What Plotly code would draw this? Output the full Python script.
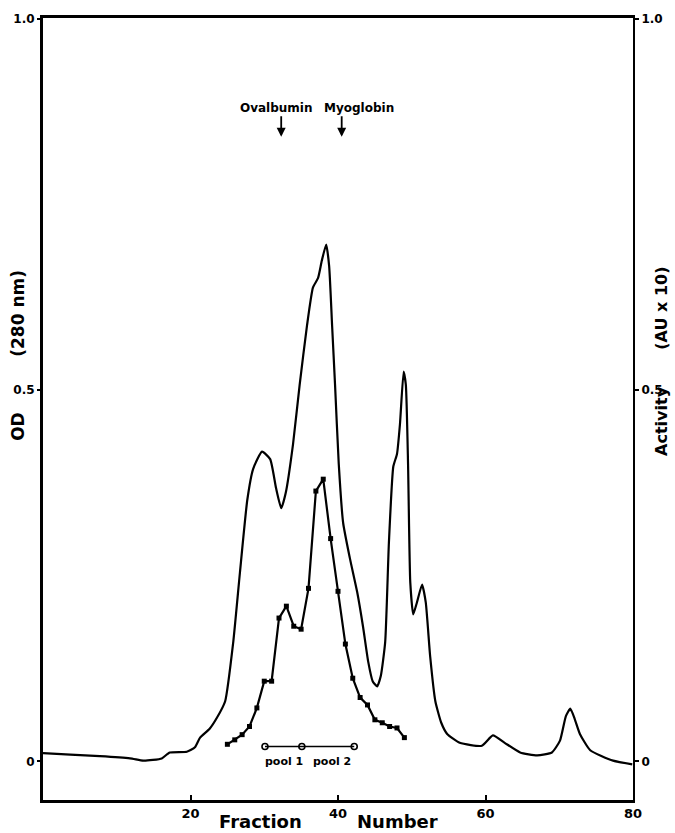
import plotly.graph_objects as go

# Absorbance trace (OD 280 nm) versus fraction number
od_fraction = [0.0, 3.7, 7.7, 11.8, 13.6, 14.9, 16.1, 17.2, 19.5, 20.6, 21.3, 22.6, 23.6,
               24.7, 25.8, 26.7, 27.7, 28.5, 29.7, 30.8, 31.6, 32.3, 32.9, 33.9, 34.8,
               35.8, 36.6, 37.3, 37.8, 38.4, 38.8, 39.2, 39.6, 40.1, 40.7, 41.6, 42.6,
               43.4, 44.1, 44.7, 45.3, 45.8, 46.4, 46.9, 47.5, 48.0, 48.4, 48.9, 49.2,
               49.5, 49.8, 50.2, 50.7, 51.4, 51.9, 52.5, 53.2, 54.0, 54.8, 56.5, 59.5,
               61.0, 62.6, 64.7, 67.0, 69.0, 70.1, 70.9, 71.5, 72.1, 72.8, 74.2, 77.3, 79.9]
od_value = [0.011, 0.009, 0.007, 0.004, 0.001, 0.002, 0.004, 0.012, 0.013, 0.019, 0.032,
            0.044, 0.059, 0.081, 0.161, 0.254, 0.352, 0.394, 0.417, 0.407, 0.368, 0.341,
            0.361, 0.427, 0.507, 0.587, 0.638, 0.651, 0.674, 0.696, 0.667, 0.587, 0.507,
            0.401, 0.321, 0.274, 0.228, 0.181, 0.134, 0.108, 0.101, 0.115, 0.161, 0.294,
            0.397, 0.414, 0.454, 0.525, 0.507, 0.400, 0.241, 0.198, 0.214, 0.238, 0.214,
            0.141, 0.081, 0.052, 0.037, 0.025, 0.021, 0.035, 0.025, 0.012, 0.008, 0.012,
            0.028, 0.061, 0.071, 0.057, 0.037, 0.015, 0.001, -0.004]

# Activity (AU x 10) measured per fraction
act_fraction = list(range(25, 50))
act_value = [0.023, 0.029, 0.036, 0.047, 0.072, 0.108, 0.108, 0.193, 0.209, 0.182,
             0.178, 0.233, 0.364, 0.380, 0.300, 0.229, 0.158, 0.112, 0.086, 0.076,
             0.056, 0.052, 0.047, 0.045, 0.032]

# Pooled fraction ranges
pool_fraction = [30.1, 35.1, 42.2]
pool_level = [0.02, 0.02, 0.02]
pool_labels = ["pool 1", "pool 2"]
pool_label_fraction = [32.7, 39.2]

# Molecular-weight markers
marker_names = ["Ovalbumin", "Myoglobin"]
marker_fraction = [32.3, 40.5]
marker_text_fraction = [31.7, 42.8]

x_ticks = [20, 40, 60, 80]
y_ticks = [0, 0.5, 1.0]
y_ticktext = ["0", "0.5", "1.0"]

FONT = "DejaVu Sans"
YR = [-0.052, 1.001]
W, H = 675, 833
L, R, T, B = 43, 42, 12, 33
pw, ph = W - L - R, H - T - B


def px2paper(px, py):
    return (px - L) / pw, (H - B - py) / ph


fig = go.Figure()

fig.add_trace(go.Scatter(
    x=od_fraction, y=od_value, mode="lines",
    line=dict(color="black", width=2.2, shape="spline", smoothing=0.5),
    showlegend=False, hoverinfo="skip"))

fig.add_trace(go.Scatter(
    x=act_fraction, y=act_value, mode="lines+markers", yaxis="y2",
    line=dict(color="black", width=2.2),
    marker=dict(symbol="square", size=5, color="black"),
    showlegend=False))

fig.add_trace(go.Scatter(
    x=pool_fraction, y=pool_level, mode="lines+markers",
    line=dict(color="black", width=1.5),
    marker=dict(symbol="circle-open", size=6, color="black", line=dict(width=1.6)),
    showlegend=False))

annotations = []
for lab, fx in zip(pool_labels, pool_label_fraction):
    annotations.append(dict(x=fx, y=0.0, xref="x", yref="y", text=f"<b>{lab}</b>",
                            showarrow=False, font=dict(family=FONT, size=11, color="black")))

for name, fx, tx in zip(marker_names, marker_fraction, marker_text_fraction):
    annotations.append(dict(x=tx, y=0.88, xref="x", yref="y", text=f"<b>{name}</b>",
                            showarrow=False, font=dict(family=FONT, size=12, color="black")))
    annotations.append(dict(x=fx, y=0.841, xref="x", yref="y", text="", showarrow=True,
                            ax=0, ay=-22, arrowhead=2, arrowsize=1, arrowwidth=1.8,
                            arrowcolor="black"))

# Axis titles
for txt, px, py, ang, size in [("Fraction", 260, 822, 0, 18), ("Number", 398, 822, 0, 18),
                                ("OD", 18, 424, -90, 17), ("(280 nm)", 18, 310, -90, 17),
                                ("Activity", 662, 418, -90, 16), ("(AU x 10)", 662, 305, -90, 16)]:
    xp, yp = px2paper(px, py)
    annotations.append(dict(x=xp, y=yp, xref="paper", yref="paper", text=f"<b>{txt}</b>",
                            textangle=ang, showarrow=False, xanchor="center", yanchor="middle",
                            font=dict(family=FONT, size=size, color="black")))

tick_font = dict(family=FONT, size=12, color="black")

fig.update_layout(
    width=W, height=H,
    margin=dict(l=L, r=R, t=T, b=B),
    paper_bgcolor="white", plot_bgcolor="white",
    showlegend=False,
    annotations=annotations,
    xaxis=dict(range=[0, 80], tickvals=x_ticks, ticktext=[f"<b>{v}</b>" for v in x_ticks],
               showgrid=False, zeroline=False, showline=True, linecolor="black", linewidth=2.5,
               mirror=True, ticks="inside", ticklen=5, tickwidth=1.5, tickcolor="black",
               tickfont=dict(family=FONT, size=13, color="black")),
    yaxis=dict(range=YR, tickvals=y_ticks, ticktext=[f"<b>{t}</b>" for t in y_ticktext],
               showgrid=False, zeroline=False, showline=True, linecolor="black", linewidth=3,
               ticks="outside", ticklen=3, tickwidth=1.5, tickcolor="black", tickfont=tick_font),
    yaxis2=dict(range=YR, tickvals=y_ticks, ticktext=[f"<b>{t}</b>" for t in y_ticktext],
                overlaying="y", side="right", showgrid=False, zeroline=False, showline=True,
                linecolor="black", linewidth=2, ticks="outside", ticklen=4, tickwidth=1.5,
                tickcolor="black", tickfont=tick_font),
)

fig.write_html("out.html")
